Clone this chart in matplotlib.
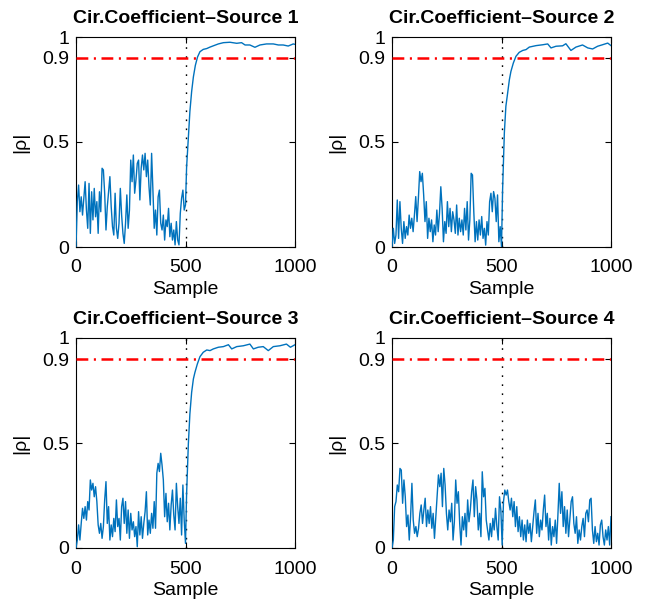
import numpy as np
import matplotlib
matplotlib.use("Agg")
import matplotlib.pyplot as plt

# ================= DATA =================
TITLES = ["Cir.Coefficient\u2013Source 1", "Cir.Coefficient\u2013Source 2",
          "Cir.Coefficient\u2013Source 3", "Cir.Coefficient\u2013Source 4"]
THRESHOLD = 0.9
SWITCH_SAMPLE = 500
Y_TICKS = [0, 0.5, 0.9, 1]
Y_TICK_LABELS = ["0", "0.5", "0.9", "1"]
X_TICKS = [0, 500, 1000]

# samples 0..500, evenly spaced
NOISE_1 = [0.0, 0.216, 0.295, 0.168, 0.239, 0.152, 0.232, 0.311, 0.176, 0.089, 0.303,
           0.065, 0.263, 0.129, 0.279, 0.144, 0.216, 0.065, 0.263, 0.168, 0.375,
           0.367, 0.256, 0.081, 0.192, 0.263, 0.335, 0.192, 0.097, 0.057, 0.256,
           0.089, 0.041, 0.113, 0.279, 0.152, 0.065, 0.017, 0.113, 0.248, 0.089,
           0.176, 0.414, 0.311, 0.438, 0.256, 0.319, 0.398, 0.414, 0.224, 0.375,
           0.438, 0.367, 0.446, 0.335, 0.414, 0.287, 0.200, 0.446, 0.271, 0.089,
           0.176, 0.057, 0.239, 0.271, 0.113, 0.081, 0.152, 0.033, 0.129, 0.097,
           0.184, 0.049, 0.113, 0.033, 0.081, 0.010, 0.121, 0.033, 0.010, 0.160,
           0.232, 0.271, 0.176, 0.200]
RISE_X_1 = [505, 513, 520, 528, 536, 545, 555, 566, 581, 597, 612, 627, 650, 673,
            703, 734, 756, 772, 794, 817, 840, 870, 901, 924, 946, 969, 992, 1000]
RISE_1 = [0.38, 0.52, 0.645, 0.74, 0.81, 0.865, 0.905, 0.93, 0.941, 0.945, 0.952,
          0.958, 0.967, 0.973, 0.975, 0.970, 0.973, 0.962, 0.962, 0.951, 0.962,
          0.967, 0.967, 0.962, 0.962, 0.957, 0.967, 0.965]

NOISE_2 = [0.0, 0.089, 0.017, 0.057, 0.224, 0.041, 0.216, 0.089, 0.017, 0.121, 0.041,
           0.097, 0.057, 0.152, 0.089, 0.137, 0.073, 0.152, 0.240, 0.121, 0.232,
           0.359, 0.311, 0.351, 0.248, 0.121, 0.216, 0.041, 0.137, 0.073, 0.129,
           0.025, 0.105, 0.057, 0.176, 0.073, 0.160, 0.287, 0.184, 0.025, 0.121,
           0.065, 0.216, 0.097, 0.184, 0.073, 0.168, 0.129, 0.065, 0.200, 0.057,
           0.137, 0.073, 0.129, 0.057, 0.184, 0.081, 0.216, 0.033, 0.129, 0.351,
           0.343, 0.168, 0.025, 0.121, 0.033, 0.129, 0.057, 0.145, 0.041, 0.089,
           0.009, 0.121, 0.057, 0.216, 0.256, 0.168, 0.264, 0.232, 0.121, 0.248,
           0.025, 0.097, 0.001]
RISE_X_2 = [505, 513, 520, 528, 536, 543, 554, 566, 581, 597, 612, 627, 658, 688,
            711, 726, 749, 779, 794, 817, 840, 870, 894, 916, 939, 961, 985, 1000]
RISE_2 = [0.273, 0.543, 0.670, 0.733, 0.797, 0.836, 0.876, 0.908, 0.927, 0.936,
          0.940, 0.952, 0.959, 0.963, 0.967, 0.948, 0.956, 0.958, 0.968, 0.936,
          0.952, 0.962, 0.948, 0.943, 0.956, 0.963, 0.971, 0.959]

NOISE_3 = [0.0, 0.038, 0.110, 0.038, 0.117, 0.189, 0.141, 0.197, 0.133, 0.221, 0.181,
           0.324, 0.276, 0.308, 0.244, 0.292, 0.221, 0.110, 0.070, 0.117, 0.046,
           0.102, 0.229, 0.316, 0.117, 0.197, 0.038, 0.110, 0.054, 0.141, 0.078,
           0.229, 0.102, 0.141, 0.038, 0.197, 0.237, 0.117, 0.221, 0.070, 0.181,
           0.046, 0.165, 0.086, 0.125, 0.054, 0.102, 0.006, 0.173, 0.062, 0.149,
           0.046, 0.117, 0.173, 0.268, 0.062, 0.133, 0.070, 0.165, 0.094, 0.221,
           0.094, 0.356, 0.403, 0.364, 0.451, 0.395, 0.324, 0.149, 0.260, 0.125,
           0.213, 0.086, 0.205, 0.276, 0.157, 0.086, 0.308, 0.197, 0.117, 0.237,
           0.062, 0.300, 0.133, 0.022]
RISE_X_3 = [505, 513, 520, 528, 536, 543, 554, 566, 581, 597, 612, 627, 650, 673,
            696, 711, 734, 764, 794, 810, 832, 855, 878, 901, 931, 961, 979, 1000]
RISE_3 = [0.257, 0.495, 0.638, 0.741, 0.805, 0.836, 0.876, 0.911, 0.932, 0.943,
          0.940, 0.948, 0.956, 0.959, 0.968, 0.948, 0.959, 0.963, 0.971, 0.948,
          0.956, 0.959, 0.940, 0.959, 0.963, 0.971, 0.956, 0.968]

# samples 0..1000, evenly spaced (source 4 never converges)
NOISE_4 = [0.0, 0.038, 0.197, 0.221, 0.300, 0.268, 0.379, 0.371, 0.213, 0.324, 0.244,
           0.102, 0.157, 0.038, 0.149, 0.308, 0.133, 0.070, 0.102, 0.054, 0.094,
           0.165, 0.205, 0.117, 0.181, 0.237, 0.102, 0.181, 0.117, 0.197, 0.094,
           0.165, 0.046, 0.149, 0.244, 0.348, 0.292, 0.356, 0.197, 0.379, 0.300,
           0.165, 0.086, 0.181, 0.125, 0.213, 0.038, 0.125, 0.324, 0.213, 0.268,
           0.117, 0.014, 0.149, 0.086, 0.165, 0.054, 0.229, 0.125, 0.181, 0.268,
           0.324, 0.149, 0.292, 0.229, 0.086, 0.165, 0.054, 0.363, 0.244, 0.284,
           0.133, 0.086, 0.038, 0.117, 0.054, 0.141, 0.086, 0.189, 0.102, 0.038,
           0.244, 0.181, 0.014, 0.221, 0.276, 0.252, 0.276, 0.221, 0.181, 0.237,
           0.149, 0.221, 0.102, 0.197, 0.078, 0.149, 0.054, 0.133, 0.038, 0.110,
           0.030, 0.133, 0.070, 0.117, 0.030, 0.102, 0.173, 0.229, 0.070, 0.165,
           0.054, 0.133, 0.086, 0.181, 0.252, 0.102, 0.165, 0.038, 0.141, 0.014,
           0.102, 0.054, 0.133, 0.022, 0.157, 0.308, 0.165, 0.268, 0.102, 0.197,
           0.070, 0.181, 0.054, 0.141, 0.221, 0.244, 0.117, 0.070, 0.149, 0.022,
           0.086, 0.038, 0.102, 0.141, 0.054, 0.165, 0.181, 0.125, 0.229, 0.237,
           0.086, 0.022, 0.102, 0.030, 0.070, 0.014, 0.110, 0.133, 0.054, 0.014,
           0.086, 0.038, 0.102, 0.014, 0.149]
# ================================================================

LINE_BLUE = "#0072BD"
FONT = 14

plt.rcParams['font.family'] = ['Liberation Sans', 'DejaVu Sans']
plt.rcParams['lines.scale_dashes'] = False


def series(noise, rise_x=None, rise=None):
    if rise_x is None:
        x = np.linspace(0, 1000, len(noise))
        return x, np.array(noise)
    x = np.concatenate([np.linspace(0, SWITCH_SAMPLE, len(noise)), rise_x])
    y = np.concatenate([noise, rise])
    return x, y


panels = [series(NOISE_1, RISE_X_1, RISE_1),
          series(NOISE_2, RISE_X_2, RISE_2),
          series(NOISE_3, RISE_X_3, RISE_3),
          series(NOISE_4)]

fig = plt.figure(figsize=(6.52, 6.02), dpi=100)

# axes boxes in pixels: left, top, right, bottom
boxes = [(76, 37, 295, 247), (392, 37, 611, 247),
         (76, 338, 295, 548), (392, 338, 611, 548)]
W, H = 652, 602

for i, (x, y) in enumerate(panels):
    l, t, r, b = boxes[i]
    ax = fig.add_axes([l / W, 1 - b / H, (r - l) / W, (b - t) / H])

    ax.plot(x, y, color=LINE_BLUE, linewidth=1.0, zorder=3)
    ax.axhline(THRESHOLD, color='red', linewidth=1.8, dashes=(8.5, 4, 1.5, 4), zorder=4)
    ax.axvline(SWITCH_SAMPLE, color='black', linewidth=1.0, dashes=(1.2, 5.3), zorder=2)

    ax.set_xlim(0, 1000)
    ax.set_ylim(0, 1)
    ax.set_xticks(X_TICKS)
    ax.set_yticks(Y_TICKS)
    ax.set_yticklabels(Y_TICK_LABELS)
    ax.tick_params(direction='in', top=True, right=True, length=4, width=0.8,
                   labelsize=FONT, pad=5)
    ax.tick_params(axis='x', pad=9)
    for s in ax.spines.values():
        s.set_linewidth(0.8)

    ax.set_title(TITLES[i], fontsize=FONT, fontweight='bold', pad=10)
    ax.set_xlabel("Sample", fontsize=FONT, labelpad=3)
    ax.set_ylabel("|\u03c1|", fontsize=FONT, labelpad=9)

fig.savefig("out.png", dpi=100)
